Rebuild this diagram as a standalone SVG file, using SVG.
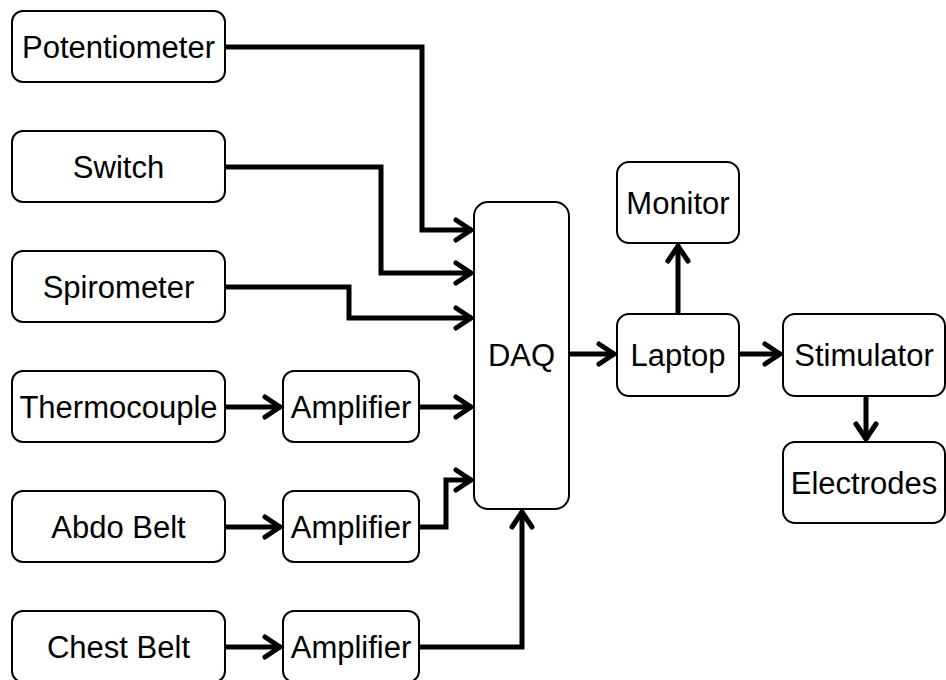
<svg xmlns="http://www.w3.org/2000/svg" width="946" height="680" viewBox="0 0 946 680">
<style>
.box{fill:#fff;stroke:#000;stroke-width:2}
.lbl{font-family:"Liberation Sans",Arial,Helvetica,sans-serif;font-size:31px;fill:#000;text-anchor:middle}
.wire{fill:none;stroke:#000;stroke-width:5;stroke-linejoin:miter}
.arr{marker-end:url(#open)}
</style>
<defs>
<marker id="open" markerUnits="userSpaceOnUse" markerWidth="30" markerHeight="30" refX="0" refY="0" viewBox="-20 -15 24 30" orient="auto" overflow="visible">
<path d="M-16,-10 L-1,0 L-16,10" fill="none" stroke="#000" stroke-width="5" stroke-linecap="round" stroke-linejoin="miter"/>
</marker>
</defs>
<rect width="946" height="680" fill="#fff"/>
<g id="connectors">
<path class="wire arr" d="M225,47 H422 V230 H472"/>
<path class="wire arr" d="M225,167 H381 V273 H472"/>
<path class="wire arr" d="M225,287 H349 V318 H472"/>
<path class="wire arr" d="M225,407 H281"/>
<path class="wire arr" d="M419,407 H472"/>
<path class="wire arr" d="M225,527 H281"/>
<path class="wire arr" d="M419,527 H446 V480 H472"/>
<path class="wire arr" d="M225,647 H281"/>
<path class="wire arr" d="M419,647 H522 V511"/>
<path class="wire arr" d="M569,354 H615"/>
<path class="wire arr" d="M678,314 V245"/>
<path class="wire arr" d="M739,354 H781"/>
<path class="wire arr" d="M866,396 V440"/>
</g>
<g id="potentiometer"><rect class="box" x="12" y="11" width="213" height="71" rx="11"/><text class="lbl" x="118.5" y="57.5">Potentiometer</text></g>
<g id="switch"><rect class="box" x="12" y="131" width="213" height="71" rx="11"/><text class="lbl" x="118.5" y="177.5">Switch</text></g>
<g id="spirometer"><rect class="box" x="12" y="251" width="213" height="71" rx="11"/><text class="lbl" x="118.5" y="297.5">Spirometer</text></g>
<g id="thermocouple"><rect class="box" x="12" y="371" width="213" height="71" rx="11"/><text class="lbl" x="118.5" y="417.5">Thermocouple</text></g>
<g id="abdo-belt"><rect class="box" x="12" y="491" width="213" height="71" rx="11"/><text class="lbl" x="118.5" y="537.5">Abdo Belt</text></g>
<g id="chest-belt"><rect class="box" x="12" y="611" width="213" height="71" rx="11"/><text class="lbl" x="118.5" y="657.5">Chest Belt</text></g>
<g id="amplifier1"><rect class="box" x="283" y="371" width="136" height="71" rx="11"/><text class="lbl" x="351" y="417.5">Amplifier</text></g>
<g id="amplifier2"><rect class="box" x="283" y="491" width="136" height="71" rx="11"/><text class="lbl" x="351" y="537.5">Amplifier</text></g>
<g id="amplifier3"><rect class="box" x="283" y="611" width="136" height="71" rx="11"/><text class="lbl" x="351" y="657.5">Amplifier</text></g>
<g id="daq"><rect class="box" x="474" y="202" width="95" height="307" rx="14"/><text class="lbl" x="521.5" y="366">DAQ</text></g>
<g id="monitor"><rect class="box" x="617" y="162" width="122" height="81" rx="12"/><text class="lbl" x="678" y="214">Monitor</text></g>
<g id="laptop"><rect class="box" x="617" y="314" width="122" height="82" rx="12"/><text class="lbl" x="678" y="366">Laptop</text></g>
<g id="stimulator"><rect class="box" x="783" y="314" width="162" height="82" rx="12"/><text class="lbl" x="864" y="366">Stimulator</text></g>
<g id="electrodes"><rect class="box" x="783" y="442" width="162" height="81" rx="12"/><text class="lbl" x="864" y="494">Electrodes</text></g>
</svg>
